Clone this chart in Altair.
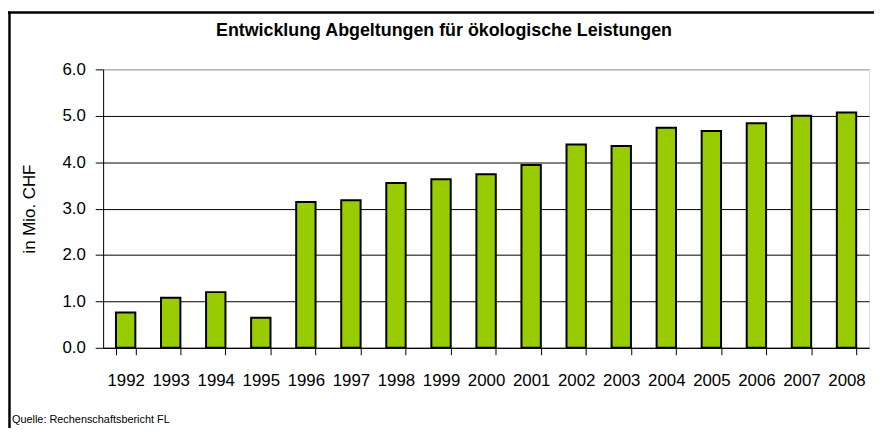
import altair as alt
import pandas as pd

years = ["1992", "1993", "1994", "1995", "1996", "1997", "1998", "1999", "2000",
         "2001", "2002", "2003", "2004", "2005", "2006", "2007", "2008"]
values = [0.76, 1.08, 1.20, 0.65, 3.14, 3.18, 3.55, 3.63, 3.74,
          3.94, 4.38, 4.35, 4.74, 4.67, 4.84, 5.00, 5.07]
y_ticks = [0, 1, 2, 3, 4, 5, 6]

title_text = "Entwicklung Abgeltungen für ökologische Leistungen"
y_title = "in Mio. CHF"
source_text = "Quelle: Rechenschaftsbericht FL"

df = pd.DataFrame({"Jahr": years, "Wert": values})

FONT = "Liberation Sans"
W, H = 773, 281

bars = alt.Chart(df).mark_bar(
    fill="#99CC00", stroke="black", strokeWidth=2, strokeOpacity=1
).encode(
    x=alt.X("Jahr:N", sort=years,
            scale=alt.Scale(paddingInner=0.57, paddingOuter=0.285),
            axis=alt.Axis(title=None, labelAngle=0, labelFont=FONT, labelFontSize=17,
                          labelColor="black", tickBand="extent", tickSize=7,
                          tickColor="black", domainColor="black", labelPadding=18,
                          grid=False)),
    y=alt.Y("Wert:Q",
            scale=alt.Scale(domain=[0, 6], nice=False),
            axis=alt.Axis(title=y_title, values=y_ticks, format=".1f",
                          labelFont=FONT, labelFontSize=17, labelColor="black",
                          titleFont=FONT, titleFontSize=17, titleFontWeight="normal",
                          titleColor="black", titleX=-74, titleBaseline="middle",
                          tickSize=8, tickColor="black", domainColor="black",
                          labelPadding=10, grid=True,
                          gridColor=alt.condition("datum.value == 6", alt.value("#999999"), alt.value("black")),
                          gridWidth=1)),
)

one = alt.Data(values=[{"a": 1}])

border_top = alt.Chart(one).mark_rule(
    stroke="black", strokeWidth=2.5
).encode(
    x=alt.value(-96), x2=alt.value(778),
    y=alt.value(-57.5),
)

border_left = alt.Chart(one).mark_rule(
    stroke="black", strokeWidth=2.5
).encode(
    x=alt.value(-94.5),
    y=alt.value(-58.5), y2=alt.value(362),
)

title = alt.Chart(one).mark_text(
    text=title_text, font=FONT, fontSize=18, fontWeight="bold",
    align="center", baseline="middle", color="black"
).encode(x=alt.value(344), y=alt.value(-39))

source = alt.Chart(one).mark_text(
    text=source_text, font=FONT, fontSize=11,
    align="left", baseline="middle", color="black"
).encode(x=alt.value(-92), y=alt.value(354))

chart = alt.layer(bars, border_top, border_left, title, source).properties(
    width=W, height=H,
    padding={"left": 96, "top": 60, "right": 5, "bottom": 81},
    autosize=alt.AutoSizeParams(type="none"),
).configure_view(
    stroke="#999999", strokeWidth=1
).configure(
    background="white"
)

chart.save("out.html", embed_options={"renderer": "svg", "actions": False})
